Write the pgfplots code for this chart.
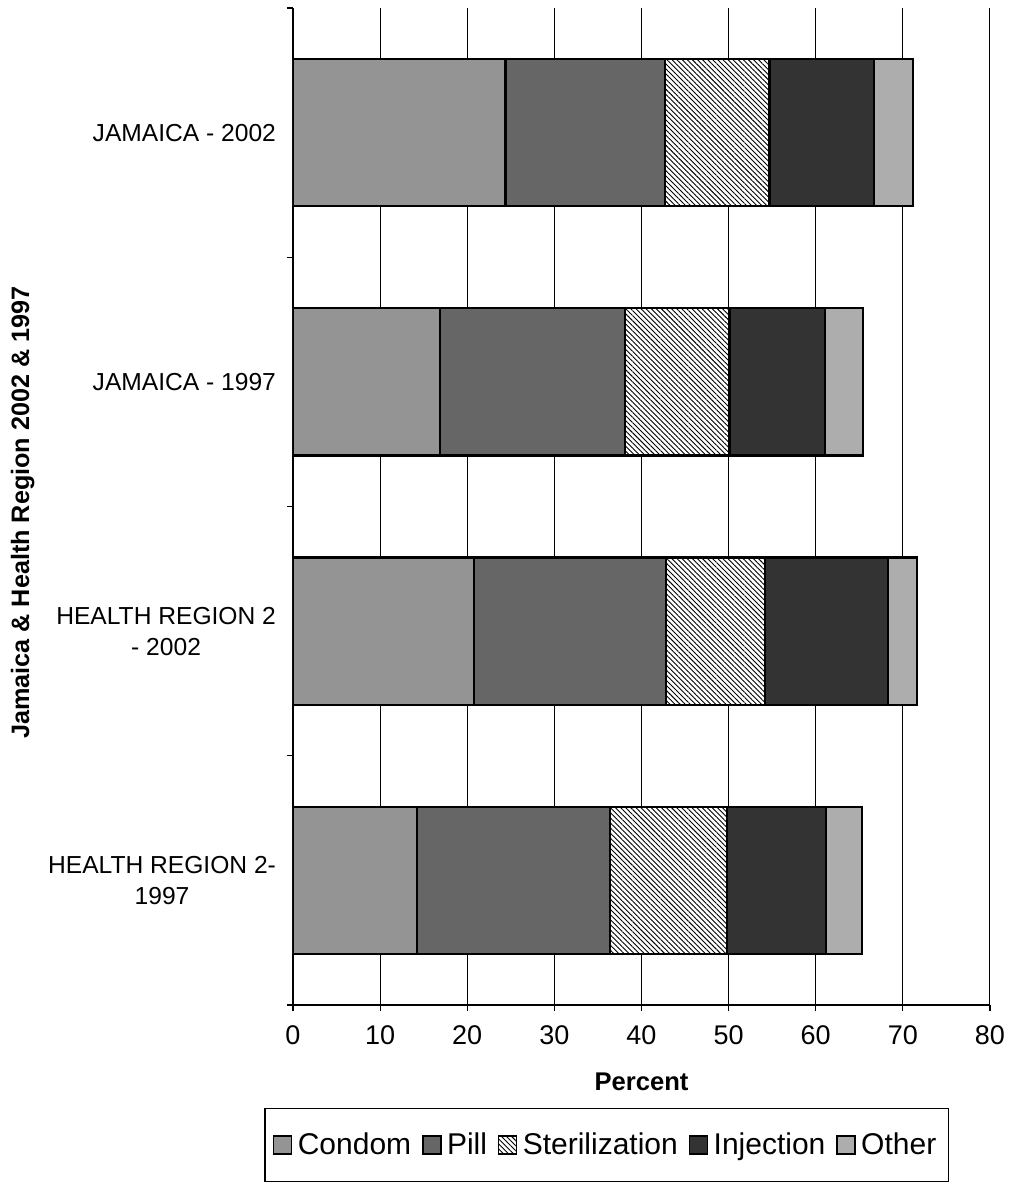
\documentclass[border=0pt]{standalone}
\usepackage{fontspec}
\setmainfont{Liberation Sans}
\usepackage{pgfplots}
\pgfplotsset{compat=1.18}
\usetikzlibrary{patterns.meta}

\definecolor{condomgray}{gray}{0.58}
\definecolor{pillgray}{gray}{0.40}
\definecolor{injgray}{gray}{0.20}
\definecolor{othergray}{gray}{0.68}

\begin{document}
\begin{tikzpicture}
\path[use as bounding box] (-146.5pt,-92.5pt) rectangle (357.5pt,502.5pt);
\begin{axis}[
  at={(0,0)}, anchor=south west,
  scale only axis, width=348.5pt, height=498.5pt,
  xbar stacked, bar width=0.59,
  xmin=0, xmax=80, ymin=-0.5, ymax=3.5,
  xtick={0,10,...,80},
  ytick={0,1,2,3},
  yticklabels={{HEALTH REGION 2-\\1997},{HEALTH REGION 2\\- 2002},{JAMAICA - 1997},{JAMAICA - 2002}},
  minor ytick={-0.5,0.5,1.5,2.5,3.5},
  axis x line*=bottom, axis y line*=left,
  axis line style={line width=1pt, -},
  xmajorgrids, grid style={black, line width=0.5pt},
  tick style={black, line width=0.6pt},
  xtick align=outside, ytick align=outside,
  every major y tick/.style={draw=none},
  minor tick length=3pt, major tick length=3pt,
  /pgf/number format/assume math mode=true,
  xticklabel style={font=\fontsize{13.5}{15}\selectfont, yshift=-4pt},
  yticklabel style={align=center, font=\fontsize{12.3}{15.5}\selectfont, xshift=-2pt},
  xlabel={\textbf{Percent}},
  xlabel style={font=\fontsize{12.8}{15}\selectfont, at={(axis description cs:0.5,0)}, anchor=center, yshift=-38.5pt},
  ylabel={\textbf{Jamaica \& Health Region 2002 \& 1997}},
  ylabel style={font=\fontsize{12.6}{15}\selectfont, at={(axis description cs:-0.388,0.494)}, anchor=center},
  legend style={at={(0.45,0)}, anchor=north, yshift=-51.5pt, draw=black, line width=0.6pt,
    font=\fontsize{15}{18}\selectfont, inner xsep=4pt, inner ysep=10pt,
    /tikz/every even column/.append style={column sep=3.5pt},
    /tikz/every odd column/.append style={column sep=0pt}},
  legend columns=-1,
  legend image code/.code={\draw[#1, line width=0.7pt] (0pt,-4.5pt) rectangle (9pt,4.5pt); \path (9.5pt,0pt);},
]
\addplot[fill=condomgray, draw=black, line width=1.1pt] coordinates {(14.2,0) (20.8,1) (16.9,2) (24.4,3)};
\addplot[fill=pillgray, draw=black, line width=1.1pt] coordinates {(22.2,0) (22.0,1) (21.2,2) (18.3,3)};
\addplot[fill=white, postaction={pattern={Lines[angle=-45,distance=1.8pt,line width=0.45pt]}}, draw=black, line width=1.1pt] coordinates {(13.4,0) (11.4,1) (12.0,2) (12.0,3)};
\addplot[fill=injgray, draw=black, line width=1.1pt] coordinates {(11.4,0) (14.1,1) (11.0,2) (12.0,3)};
\addplot[fill=othergray, draw=black, line width=1.1pt] coordinates {(4.1,0) (3.3,1) (4.3,2) (4.5,3)};
\legend{Condom, Pill, Sterilization, Injection, Other}
\end{axis}
\end{tikzpicture}
\end{document}
